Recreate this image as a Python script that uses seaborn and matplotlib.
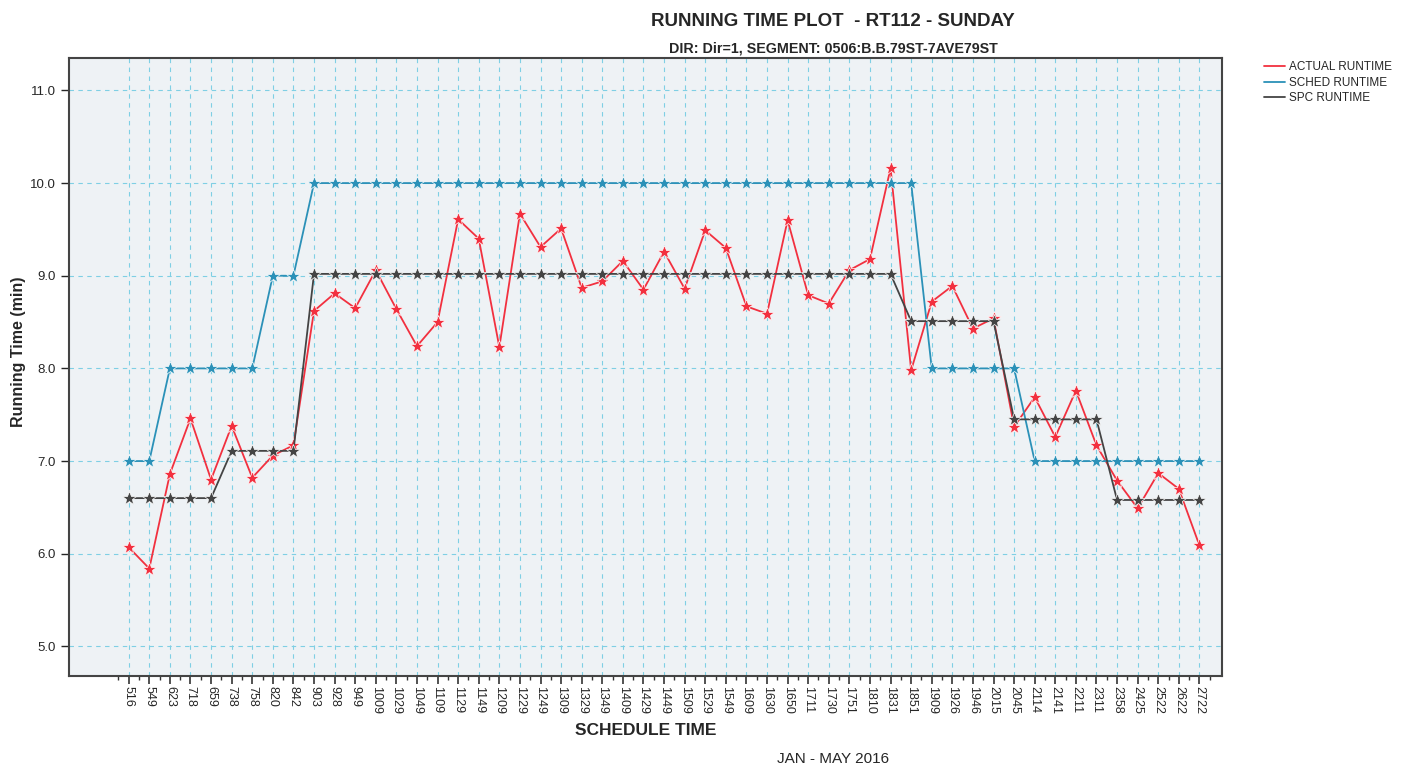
import pandas as pd
import seaborn as sns
import matplotlib
matplotlib.use("Agg")
import matplotlib.pyplot as plt
from matplotlib.ticker import MultipleLocator, FixedLocator, FormatStrFormatter

# Dados do grafico
horarios = ['516', '549', '623', '718', '659', '738', '758', '820', '842', '903',
            '928', '949', '1009', '1029', '1049', '1109', '1129', '1149', '1209', '1229',
            '1249', '1309', '1329', '1349', '1409', '1429', '1449', '1509', '1529', '1549',
            '1609', '1630', '1650', '1711', '1730', '1751', '1810', '1831', '1851', '1909',
            '1926', '1946', '2015', '2045', '2114', '2141', '2211', '2311', '2358', '2425',
            '2522', '2622', '2722']

actual_runtime = [6.07, 5.84, 6.86, 7.46, 6.80, 7.38, 6.82, 7.06, 7.17, 8.62,
                  8.81, 8.65, 9.06, 8.64, 8.24, 8.50, 9.61, 9.40, 8.23, 9.67,
                  9.31, 9.51, 8.87, 8.94, 9.16, 8.85, 9.26, 8.86, 9.49, 9.30,
                  8.67, 8.59, 9.60, 8.79, 8.70, 9.06, 9.18, 10.16, 7.98, 8.72,
                  8.89, 8.43, 8.54, 7.37, 7.69, 7.26, 7.76, 7.17, 6.79, 6.49,
                  6.87, 6.70, 6.09]

sched_runtime = [7, 7, 8, 8, 8, 8, 8, 9, 9] + [10] * 30 + [8] * 5 + [7] * 9

spc_runtime = [6.60] * 5 + [7.11] * 4 + [9.02] * 29 + [8.51] * 5 + [7.45] * 5 + [6.58] * 5

series_names = ['ACTUAL RUNTIME', 'SCHED RUNTIME', 'SPC RUNTIME']
cores = {'ACTUAL RUNTIME': '#f2303f', 'SCHED RUNTIME': '#2b91b8', 'SPC RUNTIME': '#444444'}

df = pd.DataFrame({
    'Horario': horarios * 3,
    'Valor': actual_runtime + sched_runtime + spc_runtime,
    'Serie': [series_names[0]] * len(horarios) + [series_names[1]] * len(horarios)
             + [series_names[2]] * len(horarios),
})

sns.set_style("white")
plt.rcParams['font.family'] = ['Liberation Sans', 'DejaVu Sans']

fig = plt.figure(figsize=(14.05, 7.67), dpi=100)
ax = fig.add_axes([0.0491, 0.1186, 0.8207, 0.8058])
ax.set_facecolor('#eef2f5')

sns.lineplot(data=df, x='Horario', y='Valor', hue='Serie', hue_order=series_names,
             palette=cores, marker='*', markersize=10, markeredgewidth=0.5,
             linewidth=1.3, sort=False, ax=ax, legend=True)

# eixos
n = len(horarios)
ax.set_xlim(-2.9, 53.1)
ax.set_ylim(4.68, 11.35)
ax.yaxis.set_major_locator(MultipleLocator(1))
ax.yaxis.set_major_formatter(FormatStrFormatter('%.1f'))
ax.xaxis.set_minor_locator(FixedLocator([i + 0.5 for i in range(-1, n)]))
ax.tick_params(axis='x', which='major', rotation=-90, labelsize=9, length=6, width=1.2,
               direction='out', bottom=True, pad=1, color='#333333')
ax.tick_params(axis='x', which='minor', length=3, width=1, direction='out', bottom=True, color='#333333')
ax.tick_params(axis='y', which='major', labelsize=9.5, length=6, width=1, direction='out', left=True)
for lbl in ax.get_xticklabels():
    lbl.set_va('top')
    lbl.set_ha('center')

# grade
ax.grid(True, which='major', axis='both', color='#7fcfe4', linestyle=(0, (4, 4)), linewidth=0.8)
ax.set_axisbelow(True)
for s in ax.spines.values():
    s.set_color('#444444')
    s.set_linewidth(1.5)

ax.set_xlabel('SCHEDULE TIME', fontsize=12.5, fontweight='bold', labelpad=7)
ax.set_ylabel('Running Time (min)', fontsize=11.5, fontweight='bold')
ax.yaxis.set_label_coords(-0.037, 0.525)

# titulos
fig.text(0.593, 0.972, 'RUNNING TIME PLOT  - RT112 - SUNDAY', ha='center', va='center',
         fontsize=13.5, fontweight='bold')
fig.text(0.593, 0.937, 'DIR: Dir=1, SEGMENT: 0506:B.B.79ST-7AVE79ST', ha='center', va='center',
         fontsize=10.3, fontweight='bold')
fig.text(0.593, 0.011, 'JAN - MAY 2016', ha='center', va='center', fontsize=11)

# legenda
handles, labels = ax.get_legend_handles_labels()
ax.legend_.remove()
for h in handles:
    h.set_marker('')
fig.legend(handles, labels, loc='upper left', bbox_to_anchor=(0.896, 0.926), frameon=False,
           fontsize=8.5, handlelength=1.8, handletextpad=0.35, labelspacing=0.28, borderaxespad=0)

fig.savefig('out.png', dpi=100)
